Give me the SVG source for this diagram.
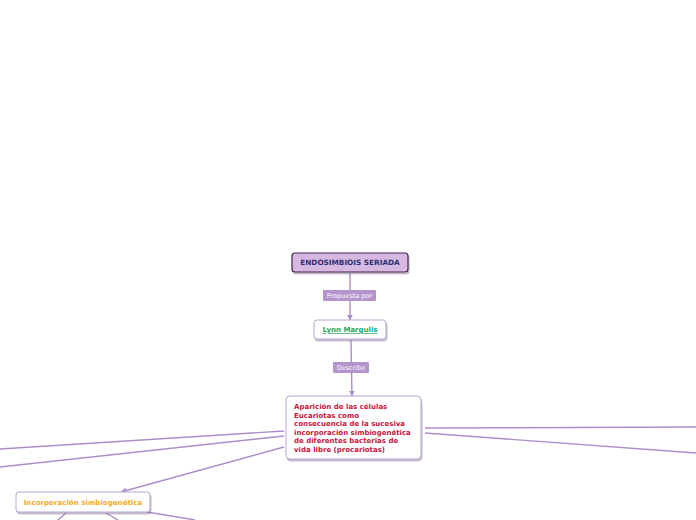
<svg xmlns="http://www.w3.org/2000/svg" width="696" height="520" viewBox="0 0 696 520">
<defs>
<marker id="arr" viewBox="0 0 10 10" refX="9" refY="5" markerWidth="6" markerHeight="6" orient="auto" markerUnits="userSpaceOnUse">
<path d="M0,0 L10,5 L0,10 z" fill="#ab8ec9"/>
</marker>
<filter id="sh" x="-10%" y="-10%" width="130%" height="140%">
<feDropShadow dx="1" dy="2" stdDeviation="0.6" flood-color="#7a6a8a" flood-opacity="0.45"/>
</filter>
<style>
.c{fill:none;stroke:#ab8ec9;stroke-width:1.4}
.t{font-family:Verdana,"DejaVu Sans",sans-serif;font-weight:bold}
.lb{fill:#b494cc}
.lt{font-family:Verdana,"DejaVu Sans",sans-serif;font-size:6.5px;fill:#ffffff}
.box{fill:#ffffff;stroke:#b9a4d2;stroke-width:1;filter:url(#sh)}
</style>
</defs>
<rect width="696" height="520" fill="#ffffff"/>
<g id="connectors">
<line class="c" x1="350" y1="273" x2="350" y2="320" marker-end="url(#arr)"/>
<line class="c" x1="351" y1="340" x2="352" y2="396" marker-end="url(#arr)"/>
<line class="c" x1="284" y1="431" x2="0" y2="449"/>
<line class="c" x1="284" y1="436" x2="0" y2="467"/>
<line class="c" x1="284" y1="447" x2="121" y2="492" marker-end="url(#arr)"/>
<line class="c" x1="425" y1="428" x2="696" y2="427"/>
<line class="c" x1="425" y1="433" x2="696" y2="453"/>
<line class="c" x1="66" y1="513" x2="58" y2="520"/>
<line class="c" x1="106" y1="513" x2="118" y2="520"/>
<line class="c" x1="147" y1="512" x2="195" y2="520"/>
<g id="lbl-propuesta">
<rect class="lb" x="323" y="290" width="53" height="11" rx="1"/>
<text class="lt" x="349.5" y="298" text-anchor="middle">Propuesta por</text>
</g>
<g id="lbl-describe">
<rect class="lb" x="333" y="362" width="36" height="11" rx="1"/>
<text class="lt" x="351" y="370" text-anchor="middle">Describe</text>
</g>
</g>
<g id="node-endosimbiosis">
<rect x="292" y="253" width="116" height="19" rx="3" fill="#d7b8e0" stroke="#4a1e4e" stroke-width="1.2" filter="url(#sh)"/>
<text class="t" x="350" y="265" font-size="7.3" fill="#2b3170" text-anchor="middle">ENDOSIMBIOIS SERIADA</text>
</g>
<g id="node-lynn">
<rect class="box" x="314" y="320" width="72" height="19" rx="3"/>
<text class="t" x="350" y="332" font-size="7" fill="#27a559" text-anchor="middle" text-decoration="underline">Lynn Margulis</text>
</g>
<g id="node-aparicion">
<rect class="box" x="286" y="396" width="135" height="63" rx="4"/>
<text class="t" font-size="7" fill="#c8143c">
<tspan x="294" y="409">Aparición de las células</tspan>
<tspan x="294" y="417.5">Eucariotas como</tspan>
<tspan x="294" y="426">consecuencia de la sucesiva</tspan>
<tspan x="294" y="434.5">incorporación simbiogenética</tspan>
<tspan x="294" y="443">de diferentes bacterias de</tspan>
<tspan x="294" y="451.5">vida libre (procariotas)</tspan>
</text>
</g>
<g id="node-incorporacion">
<rect class="box" x="16" y="492" width="134" height="20" rx="3"/>
<text class="t" x="83" y="505" font-size="7.1" fill="#f6a91f" text-anchor="middle">Incorporación simbiogenética</text>
</g>
</svg>
